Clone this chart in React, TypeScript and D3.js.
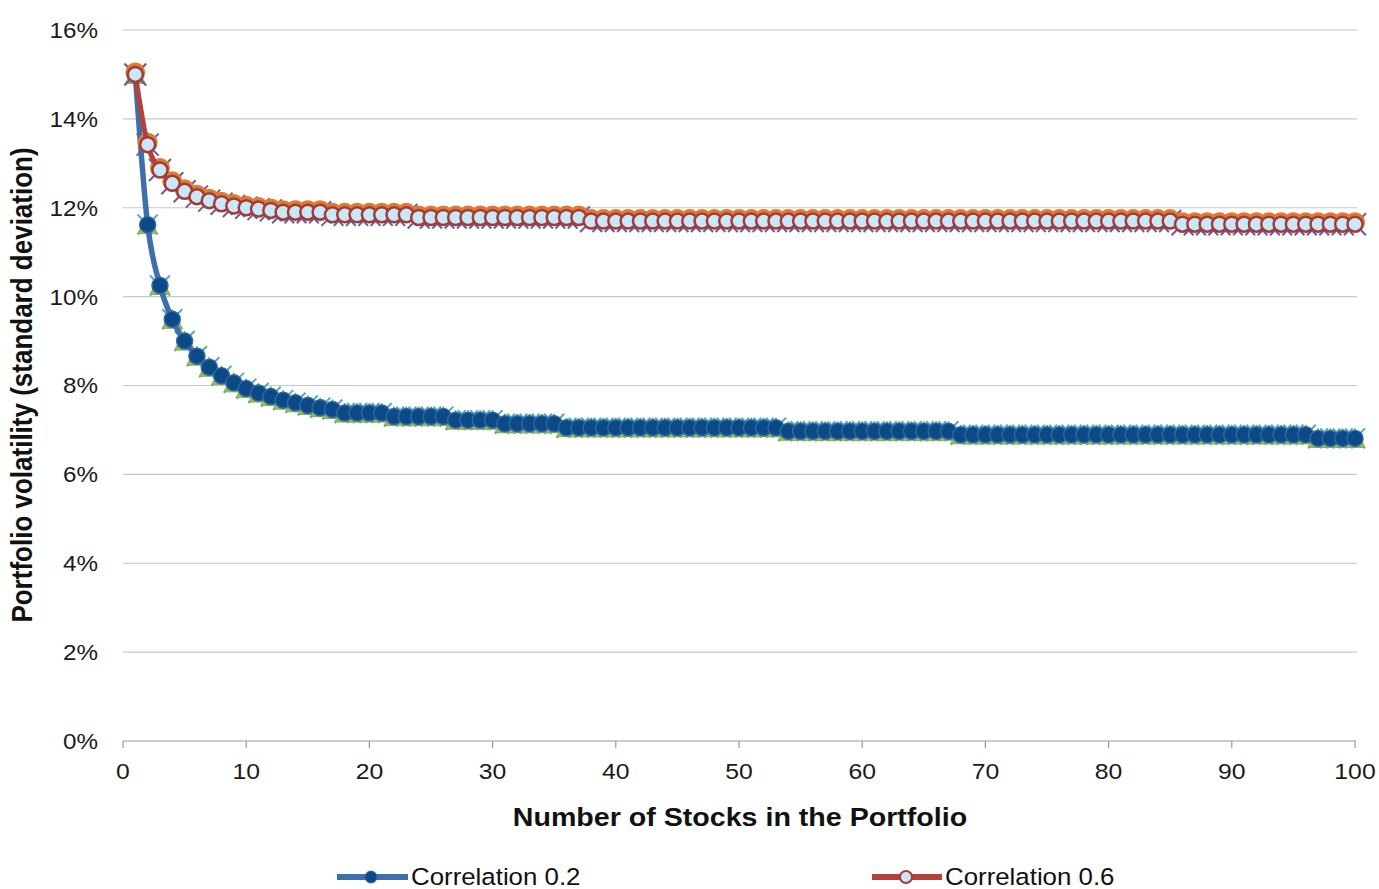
import React from 'react';
import * as d3 from 'd3';

// number of stocks (x categories)
const stocks = [
  1, 2, 3, 4, 5, 6, 7, 8, 9, 10,
  11, 12, 13, 14, 15, 16, 17, 18, 19, 20,
  21, 22, 23, 24, 25, 26, 27, 28, 29, 30,
  31, 32, 33, 34, 35, 36, 37, 38, 39, 40,
  41, 42, 43, 44, 45, 46, 47, 48, 49, 50,
  51, 52, 53, 54, 55, 56, 57, 58, 59, 60,
  61, 62, 63, 64, 65, 66, 67, 68, 69, 70,
  71, 72, 73, 74, 75, 76, 77, 78, 79, 80,
  81, 82, 83, 84, 85, 86, 87, 88, 89, 90,
  91, 92, 93, 94, 95, 96, 97, 98, 99, 100,
];

// volatility in %, correlation 0.2
const corr02 = [
  15.0, 11.62, 10.25, 9.49, 9.0, 8.66, 8.41, 8.22, 8.06, 7.93,
  7.83, 7.75, 7.67, 7.61, 7.55, 7.5, 7.46, 7.38, 7.38, 7.38,
  7.38, 7.3, 7.3, 7.3, 7.3, 7.3, 7.22, 7.22, 7.22, 7.22,
  7.14, 7.14, 7.14, 7.14, 7.14, 7.05, 7.05, 7.05, 7.05, 7.05,
  7.05, 7.05, 7.05, 7.05, 7.05, 7.05, 7.05, 7.05, 7.05, 7.05,
  7.05, 7.05, 7.05, 6.97, 6.97, 6.97, 6.97, 6.97, 6.97, 6.97,
  6.97, 6.97, 6.97, 6.97, 6.97, 6.97, 6.97, 6.89, 6.89, 6.89,
  6.89, 6.89, 6.89, 6.89, 6.89, 6.89, 6.89, 6.89, 6.89, 6.89,
  6.89, 6.89, 6.89, 6.89, 6.89, 6.89, 6.89, 6.89, 6.89, 6.89,
  6.89, 6.89, 6.89, 6.89, 6.89, 6.89, 6.81, 6.81, 6.81, 6.81,
];

// volatility in %, correlation 0.6
const corr06 = [
  15.0, 13.42, 12.85, 12.55, 12.37, 12.25, 12.16, 12.09, 12.04, 12.0,
  11.97, 11.94, 11.9, 11.9, 11.9, 11.9, 11.84, 11.84, 11.84, 11.84,
  11.84, 11.84, 11.84, 11.78, 11.78, 11.78, 11.78, 11.78, 11.78, 11.78,
  11.78, 11.78, 11.78, 11.78, 11.78, 11.78, 11.78, 11.7, 11.7, 11.7,
  11.7, 11.7, 11.7, 11.7, 11.7, 11.7, 11.7, 11.7, 11.7, 11.7,
  11.7, 11.7, 11.7, 11.7, 11.7, 11.7, 11.7, 11.7, 11.7, 11.7,
  11.7, 11.7, 11.7, 11.7, 11.7, 11.7, 11.7, 11.7, 11.7, 11.7,
  11.7, 11.7, 11.7, 11.7, 11.7, 11.7, 11.7, 11.7, 11.7, 11.7,
  11.7, 11.7, 11.7, 11.7, 11.7, 11.63, 11.63, 11.63, 11.63, 11.63,
  11.63, 11.63, 11.63, 11.63, 11.63, 11.63, 11.63, 11.63, 11.63, 11.63,
];

const yTicks = [0, 2, 4, 6, 8, 10, 12, 14, 16];
const xTicks = [0, 10, 20, 30, 40, 50, 60, 70, 80, 90, 100];

const W = 1379;
const H = 889;
const FONT = '"Liberation Sans", Arial, sans-serif';
// the source picture is slightly stretched sideways
const SX = 1.1;

export default function App() {
  const x = d3.scaleLinear().domain([0, 100]).range([123, 1355]);
  const y = d3.scaleLinear().domain([0, 16]).range([741, 30]);

  const line = d3
    .line<number>()
    .x((_, i) => x(stocks[i]))
    .y((d) => y(d))
    .curve(d3.curveMonotoneX);

  const pts02 = corr02.map((v, i) => [x(stocks[i]), y(v)]);
  const pts06 = corr06.map((v, i) => [x(stocks[i]), y(v)]);

  return (
    <svg
      width={W}
      height={H}
      style={{ position: 'absolute', left: 0, top: 0, background: '#fff' }}
      fontFamily={FONT}
    >
      {/* gridlines */}
      {yTicks.map((t) =>
        t === 0 ? null : (
          <line key={t} x1={123} x2={1357} y1={y(t)} y2={y(t)} stroke="#c8c8c8" strokeWidth={1.2} />
        )
      )}
      {/* y labels */}
      {yTicks.map((t) => (
        <text
          key={t}
          transform={`translate(98,${y(t)}) scale(${SX},1)`}
          dy="0.36em"
          textAnchor="end"
          fontSize={22}
          fill="#1a1a1a"
        >
          {t}%
        </text>
      ))}
      {/* x axis */}
      <line x1={123} x2={1356} y1={741} y2={741} stroke="#9a9a9a" strokeWidth={1.2} />
      {xTicks.map((t) => (
        <g key={t}>
          <line x1={x(t)} x2={x(t)} y1={741} y2={748} stroke="#9a9a9a" strokeWidth={1.2} />
          <text
            transform={`translate(${x(t)},779) scale(${SX},1)`}
            textAnchor="middle"
            fontSize={22.5}
            fill="#1a1a1a"
          >
            {t}
          </text>
        </g>
      ))}

      {/* hidden-series markers behind correlation 0.2 */}
      {pts02.map(([px, py], i) => (
        <g key={'x02' + i} stroke="#4bacc6" strokeWidth={2}>
          <line x1={px - 10} y1={py - 10} x2={px + 10} y2={py + 10} />
          <line x1={px + 10} y1={py - 10} x2={px - 10} y2={py + 10} />
        </g>
      ))}
      {pts02.map(([px, py], i) => (
        <path
          key={'t02' + i}
          d={`M${px},${py - 10}L${px + 10},${py + 9}L${px - 10},${py + 9}Z`}
          fill="#9bbb59"
          stroke="#8aab4a"
          strokeWidth={1}
        />
      ))}
      {/* correlation 0.2 */}
      <path d={line(corr02) || ''} fill="none" stroke="#3d6fab" strokeWidth={5.5} />
      {pts02.map(([px, py], i) => (
        <circle key={'c02' + i} cx={px} cy={py} r={8} fill="#0b4a86" stroke="#2f66a4" strokeWidth={1.5} />
      ))}

      {/* hidden-series markers behind correlation 0.6 */}
      {pts06.map(([px, py], i) => (
        <g key={'x06' + i} stroke="#6a5aa0" strokeWidth={2}>
          <line x1={px - 11} y1={py + 11} x2={px + 11} y2={py - 11} />
          <line x1={px - 11} y1={py - 11} x2={px + 11} y2={py + 11} />
        </g>
      ))}
      {pts06.map(([px, py], i) => (
        <circle key={'o06' + i} cx={px} cy={py - 2} r={10} fill="#e07b2e" />
      ))}
      {/* correlation 0.6 */}
      <path d={line(corr06) || ''} fill="none" stroke="#b3413c" strokeWidth={5} />
      {pts06.map(([px, py], i) => (
        <circle key={'c06' + i} cx={px} cy={py} r={7.5} fill="#c9e7f6" stroke="#a23c39" strokeWidth={2.5} />
      ))}

      {/* axis titles */}
      <text
        transform={`translate(740,826) scale(${SX},1)`}
        textAnchor="middle"
        fontSize={26}
        fontWeight="bold"
        fill="#111"
      >
        Number of Stocks in the Portfolio
      </text>
      <text
        transform={`translate(32,385) rotate(-90) scale(1,${SX})`}
        textAnchor="middle"
        fontSize={26}
        fontWeight="bold"
        fill="#111"
      >
        Portfolio volatility (standard deviation)
      </text>

      {/* legend */}
      <line x1={337} x2={408} y1={877} y2={877} stroke="#3d6fab" strokeWidth={6} />
      <circle cx={371} cy={877} r={6} fill="#0b4a86" stroke="#2f66a4" strokeWidth={1} />
      <text transform={`translate(411,877) scale(${SX},1)`} dy="0.36em" fontSize={23.5} fill="#111">
        Correlation 0.2
      </text>
      <line x1={872} x2={942} y1={877} y2={877} stroke="#b3413c" strokeWidth={6} />
      <circle cx={906} cy={877} r={6} fill="#c9e7f6" stroke="#a23c39" strokeWidth={2} />
      <text transform={`translate(945,877) scale(${SX},1)`} dy="0.36em" fontSize={23.5} fill="#111">
        Correlation 0.6
      </text>
    </svg>
  );
}
